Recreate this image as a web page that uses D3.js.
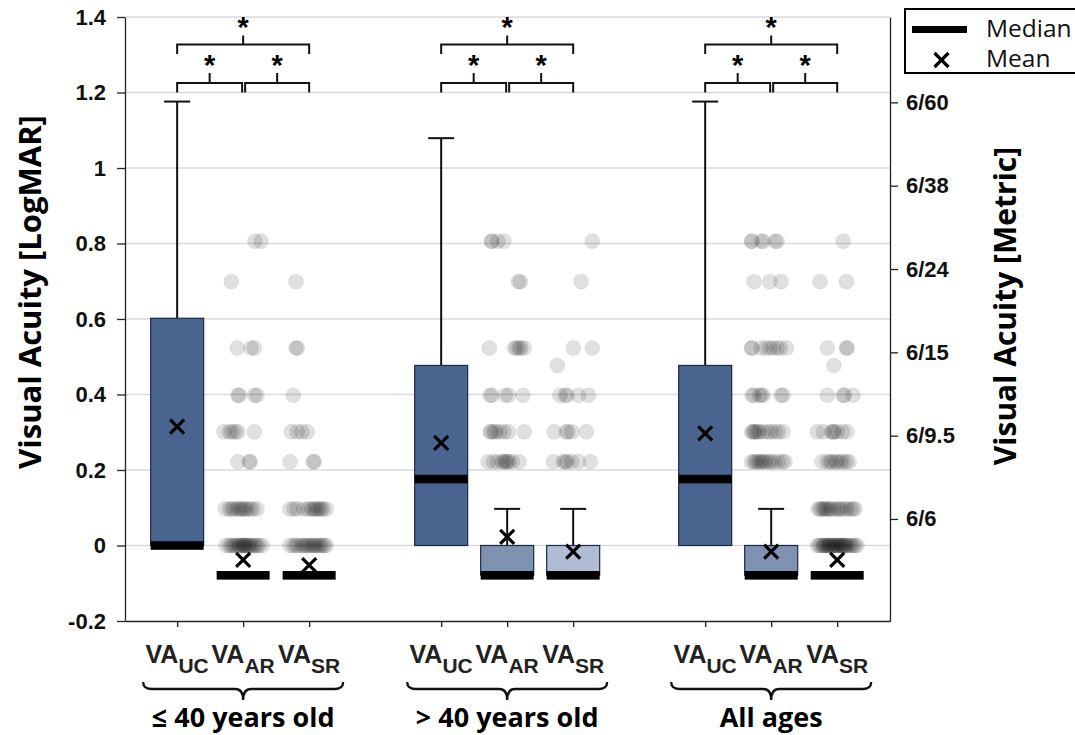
<!DOCTYPE html>
<html>
<head>
<meta charset="utf-8">
<script src="https://cdn.jsdelivr.net/npm/d3@7"></script>
<style>
  body { margin: 0; background: #fff; }
  svg { display: block; }
</style>
</head>
<body>
<div id="chart"></div>
<script>
// categories
const groups = ["≤ 40 years old", "> 40 years old", "All ages"]
const measures = ["UC", "AR", "SR"]
const boxColors = ["#4a6490", "#7f92b2", "#b0bcd3"]

// box stats in LogMAR, rows = groups, columns = UC / AR / SR
const q1 = [[0, -0.079, -0.079], [0, -0.079, -0.079], [0, -0.079, -0.079]]
const q3 = [[0.602, -0.079, -0.079], [0.477, 0, 0], [0.477, 0, -0.079]]
const medians = [[0, -0.079, -0.079], [0.176, -0.079, -0.079], [0.176, -0.079, -0.079]]
const whiskerTop = [[1.176, null, null], [1.079, 0.097, 0.097], [1.176, 0.097, null]]
const means = [[0.315, -0.038, -0.052], [0.272, 0.023, -0.016], [0.297, -0.016, -0.038]]

// outliers: [LogMAR, jitter of each point in % of a slot]
const outYoungAR = [
  [0.806, [18, 27]],
  [0.699, [-18]],
  [0.523, [-9, 12, 17]],
  [0.398, [-8, -6, 17, 21]],
  [0.301, [-29, -21, -17, -12, -8, 17]],
  [0.222, [-8, 9, 11]],
  [0.097, [-27, -21, -17, -14, -9, -6, -3, 0, 3, 6, 11, 15, 21]],
  [0, [-26, -21, -18, -15, -12, -9, -6, -5, -2, 0, 2, 3, 5, 8, 9, 12, 15, 18, 21, 24, 29]]
]
const outYoungSR = [
  [0.699, [-20]],
  [0.523, [-20, -18]],
  [0.398, [-24]],
  [0.301, [-27, -18, -11, -3]],
  [0.222, [-29, 6, 8]],
  [0.097, [-29, -23, -18, -8, -2, 3, 6, 9, 12, 15, 18, 21, 26]],
  [0, [-29, -24, -20, -17, -12, -9, -6, -3, 0, 3, 6, 8, 11, 14, 17, 20, 23, 26]]
]
const outOldAR = [
  [0.806, [-24, -23, -14, -5]],
  [0.699, [17, 20]],
  [0.523, [-27, 11, 14, 18, 21, 26]],
  [0.398, [-26, -23, -3, 2, 24]],
  [0.301, [-26, -24, -20, -17, -11, -5, 2, 26]],
  [0.222, [-29, -21, -15, -8, -5, -2, 0, 3, 8, 18]]
]
const outOldSR = [
  [0.806, [29]],
  [0.699, [12]],
  [0.523, [0, 29]],
  [0.477, [-24]],
  [0.398, [-20, -12, -9, 8, 23]],
  [0.301, [-29, -11, -8, -2, 20]],
  [0.222, [-30, -15, -12, -9, -2, 8, 26]]
]
const outAllAR = [
  [0.806, [-30, -29, -15, -12, 6, 9]],
  [0.699, [-26, -2, 15]],
  [0.523, [-30, -29, -15, -8, -2, 3, 9, 14, 23]],
  [0.398, [-29, -26, -18, -15, -12, 15, 18]],
  [0.301, [-30, -27, -26, -23, -20, -17, -11, -5, 0, 6, 11, 18]],
  [0.222, [-30, -26, -23, -20, -17, -14, -11, -8, -3, 0, 5, 11, 17, 21]]
]
const outAllSR = [
  [0.806, [9]],
  [0.699, [-26, 14]],
  [0.523, [-15, 14, 15]],
  [0.477, [-5]],
  [0.398, [-15, 9, 11, 24]],
  [0.301, [-30, -21, -9, -6, -5, 0, 8, 15]],
  [0.222, [-23, -15, -11, -8, -3, 0, 5, 9, 14, 18]],
  [0.097, [-29, -26, -23, -20, -18, -15, -12, -9, -5, 0, 3, 6, 11, 15, 20, 24, 27]],
  [0, [-30, -27, -24, -21, -20, -18, -15, -14, -12, -11, -8, -6, -6, -3, 0, 0, 2, 5, 6, 8, 9, 12, 12, 15, 18, 21, 24, 27, 30]]
]
const outliers = [
  [[], outYoungAR, outYoungSR],
  [[], outOldAR, outOldSR],
  [[], outAllAR, outAllSR]
]

// axis ticks
const leftTicks = [-0.2, 0, 0.2, 0.4, 0.6, 0.8, 1, 1.2, 1.4]
const metricTicks = [0, 0.2, 0.4, 0.6, 0.8, 1.0]
const metricLabels = ["6/6", "6/9.5", "6/15", "6/24", "6/38", "6/60"]

const width = 1075
const height = 735
const plotLeft = 125, plotRight = 890, plotTop = 17, plotBottom = 621

const svg = d3.select("#chart").append("svg")
  .attr("width", width)
  .attr("height", height)

// slot index: group g, measure m -> 4g + m
const x = d3.scaleLinear().domain([-0.79, 10.8]).range([plotLeft, plotRight])
const y = d3.scaleLinear().domain([-0.2, 1.4]).range([plotBottom, plotTop])
const yRight = d3.scaleLinear().domain([-0.245, 1.205]).range([plotBottom, plotTop])
const slot = (g, m) => g * 4 + m
const boxW = 53

// gridlines
svg.append("g")
  .selectAll("line")
  .data(leftTicks.filter(d => d > -0.2))
  .enter()
  .append("line")
  .attr("x1", plotLeft)
  .attr("x2", plotRight)
  .attr("y1", d => y(d))
  .attr("y2", d => y(d))
  .style("stroke", "#dadada")
  .style("stroke-width", 1.5)

// outlier dots
const dots = []
outliers.forEach((row, g) => row.forEach((col, m) => col.forEach(([v, js]) => {
  js.forEach(j => dots.push({ g, m, v, j }))
})))
svg.append("g")
  .selectAll("circle")
  .data(dots)
  .enter()
  .append("circle")
  .attr("cx", d => x(slot(d.g, d.m) + d.j / 100))
  .attr("cy", d => y(d.v))
  .attr("r", 7.5)
  .style("fill", "rgba(0,0,0,0.12)")
  .style("stroke", "rgba(0,0,0,0.06)")
  .style("stroke-width", 1)

// flatten box stats
const cols = []
groups.forEach((gName, g) => measures.forEach((mName, m) => {
  cols.push({
    g, m,
    q1: q1[g][m], q3: q3[g][m], med: medians[g][m],
    wt: whiskerTop[g][m], mean: means[g][m]
  })
}))

// whiskers
const wg = svg.append("g")
cols.filter(d => d.wt !== null).forEach(d => {
  const cx = x(slot(d.g, d.m))
  wg.append("line")
    .attr("x1", cx).attr("x2", cx)
    .attr("y1", y(d.q3)).attr("y2", y(d.wt))
    .style("stroke", "#111").style("stroke-width", 2)
  wg.append("line")
    .attr("x1", cx - 13).attr("x2", cx + 13)
    .attr("y1", y(d.wt)).attr("y2", y(d.wt))
    .style("stroke", "#111").style("stroke-width", 2)
})

// boxes
svg.append("g")
  .selectAll("rect")
  .data(cols.filter(d => d.q3 > d.q1))
  .enter()
  .append("rect")
  .attr("x", d => x(slot(d.g, d.m)) - boxW / 2)
  .attr("y", d => y(d.q3))
  .attr("width", boxW)
  .attr("height", d => y(d.q1) - y(d.q3))
  .style("fill", d => boxColors[d.m])
  .style("stroke", "#1c2a47")
  .style("stroke-width", 1.2)

// medians
svg.append("g")
  .selectAll("rect")
  .data(cols)
  .enter()
  .append("rect")
  .attr("x", d => x(slot(d.g, d.m)) - boxW / 2)
  .attr("y", d => y(d.med) - 4.3)
  .attr("width", boxW)
  .attr("height", 8.6)
  .style("fill", "#000")

// means
const crossPath = (cx, cy, s) => `M${cx - s},${cy - s}L${cx + s},${cy + s}M${cx - s},${cy + s}L${cx + s},${cy - s}`
svg.append("g")
  .selectAll("path")
  .data(cols)
  .enter()
  .append("path")
  .attr("d", d => crossPath(x(slot(d.g, d.m)), y(d.mean), 7))
  .style("stroke", "#000")
  .style("stroke-width", 3.2)
  .style("fill", "none")

// axes
const tickFont = "'Liberation Sans', Arial, sans-serif"
const leftAxis = svg.append("g")
  .attr("transform", `translate(${plotLeft},0)`)
  .call(d3.axisLeft(y).tickValues(leftTicks).tickSize(8).tickSizeOuter(0).tickPadding(11)
    .tickFormat(d => String(+d.toFixed(1))))
const rightAxis = svg.append("g")
  .attr("transform", `translate(${plotRight},0)`)
  .call(d3.axisRight(yRight).tickValues(metricTicks).tickSize(8).tickSizeOuter(0).tickPadding(8)
    .tickFormat((d, i) => metricLabels[i]))
const slots = []
groups.forEach((gName, g) => measures.forEach((mName, m) => slots.push(slot(g, m))))
const bottomAxis = svg.append("g")
  .attr("transform", `translate(0,${plotBottom})`)
  .call(d3.axisBottom(x).tickValues(slots).tickSize(6).tickSizeOuter(0).tickFormat(""))

;[leftAxis, rightAxis, bottomAxis].forEach(a => {
  a.selectAll("path, line").style("stroke", "#222").style("stroke-width", 1.3)
  a.selectAll("text")
    .style("font-family", tickFont)
    .style("font-weight", "bold")
    .style("font-size", "22px")
    .style("fill", "#111")
})

// x labels VA with subscripts
const xl = svg.append("g")
cols.forEach(d => {
  const t = xl.append("text")
    .attr("x", x(slot(d.g, d.m)))
    .attr("y", 663)
    .attr("text-anchor", "middle")
    .style("font-family", tickFont)
    .style("font-weight", "bold")
    .style("font-size", "25px")
    .style("fill", "#222")
  t.append("tspan").text("VA")
  t.append("tspan").attr("dy", 10).style("font-size", "21px").text(measures[d.m])
})

// braces and group labels
const titleFont = "'Open Sans', 'Noto Sans', sans-serif"
groups.forEach((name, g) => {
  const cx = x(slot(g, 1))
  const x0 = cx - 100, x1 = cx + 100
  const yt = 682, ym = 689, yb = 700
  svg.append("path")
    .attr("d", `M${x0},${yt} Q${x0},${ym} ${x0 + 9},${ym} L${cx - 8},${ym} Q${cx},${ym} ${cx},${yb}` +
      ` Q${cx},${ym} ${cx + 8},${ym} L${x1 - 9},${ym} Q${x1},${ym} ${x1},${yt}`)
    .style("fill", "none")
    .style("stroke", "#111")
    .style("stroke-width", 2.3)
  svg.append("text")
    .attr("x", cx)
    .attr("y", 727)
    .attr("text-anchor", "middle")
    .style("font-family", titleFont)
    .style("font-weight", "bold")
    .style("font-size", "27px")
    .style("fill", "#000")
    .text(name)
})

// axis titles
svg.append("text")
  .attr("transform", "translate(41,292) rotate(-90)")
  .attr("text-anchor", "middle")
  .style("font-family", titleFont)
  .style("font-weight", "bold")
  .style("font-size", "31px")
  .text("Visual Acuity [LogMAR]")
svg.append("text")
  .attr("transform", "translate(1016,306) rotate(-90)")
  .attr("text-anchor", "middle")
  .style("font-family", titleFont)
  .style("font-weight", "bold")
  .style("font-size", "30px")
  .text("Visual Acuity [Metric]")

// significance brackets
const br = svg.append("g")
  .style("fill", "none")
  .style("stroke", "#111")
  .style("stroke-width", 2)
const star = (sx, cy) => svg.append("text")
  .attr("x", sx)
  .attr("y", cy + 16)
  .attr("text-anchor", "middle")
  .style("font-family", tickFont)
  .style("font-weight", "bold")
  .style("font-size", "29px")
  .text("*")
const bracket = (xa, xb, yh, drop, rise) => {
  br.append("path").attr("d", `M${xa},${yh + drop}V${yh}H${xb}V${yh + drop}`)
  const mx = (xa + xb) / 2
  br.append("path").attr("d", `M${mx},${yh}V${yh - rise}`)
  return mx
}
groups.forEach((name, g) => {
  const a = x(slot(g, 0)), b = x(slot(g, 1)), c = x(slot(g, 2))
  const mTop = bracket(a, c, 44.5, 9.5, 9)
  star(mTop, 20.5)
  const mL = bracket(a, b - 1, 83, 9.5, 10)
  star(mL, 58.5)
  const mR = bracket(b + 2, c, 83, 9.5, 10)
  star(mR, 58.5)
})

// legend
const lg = svg.append("g")
lg.append("rect")
  .attr("x", 905).attr("y", 9)
  .attr("width", 200).attr("height", 64)
  .style("fill", "#fff")
  .style("stroke", "#000")
  .style("stroke-width", 2)
lg.append("rect")
  .attr("x", 912).attr("y", 26)
  .attr("width", 55).attr("height", 7)
  .style("fill", "#000")
lg.append("path")
  .attr("d", crossPath(941.5, 60, 7))
  .style("stroke", "#000")
  .style("stroke-width", 3.2)
const legendText = ["Median", "Mean"]
legendText.forEach((t, i) => {
  lg.append("text")
    .attr("x", 986)
    .attr("y", 37 + i * 30)
    .style("font-family", titleFont)
    .style("font-size", "24.5px")
    .style("fill", "#111")
    .text(t)
})
</script>
</body>
</html>
